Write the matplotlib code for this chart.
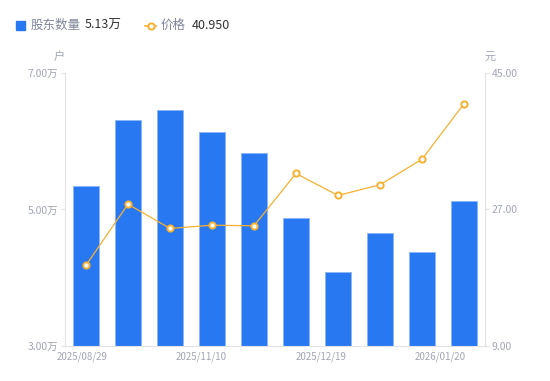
import numpy as np
import matplotlib.pyplot as plt
from matplotlib.lines import Line2D

plt.rcParams['font.family'] = ['Noto Sans CJK SC', 'DejaVu Sans']

# data
dates = ['2025/08/29', '', '', '2025/11/10', '', '', '2025/12/19', '', '', '2026/01/20']
holders = [5.35, 6.31, 6.46, 6.14, 5.83, 4.88, 4.08, 4.66, 4.38, 5.13]  # 万户
price = [19.65, 27.70, 24.50, 24.93, 24.85, 31.75, 28.85, 30.26, 33.63, 40.95]
left_ticks = [3.0, 5.0, 7.0]
right_ticks = [9.0, 27.0, 45.0]

blue = '#2878f2'
orange = '#f8b031'
grey = '#a1a5b4'
axis_col = '#e3e3e6'

fig = plt.figure(figsize=(5.5, 3.81), dpi=100)
ax = fig.add_axes([0.1182, 0.0919, 0.7636, 0.7165])
ax2 = ax.twinx()

x = np.arange(len(holders))
ax.bar(x, holders, width=0.6, color=blue, edgecolor='#8ab6f8', linewidth=0.6, zorder=2)
ax.set_xlim(-0.5, len(holders) - 0.5)
ax.set_ylim(3, 7)
ax.set_yticks(left_ticks)
ax.set_yticklabels([f'{v:.2f}万' for v in left_ticks])

ax2.plot(x, price, color=orange, linewidth=0.9, marker='o', markersize=4.5,
         markerfacecolor='white', markeredgecolor=orange, markeredgewidth=1.4, zorder=3)
ax2.set_ylim(9, 45)
ax2.set_yticks(right_ticks)
ax2.set_yticklabels([f'{v:.2f}' for v in right_ticks])

# x labels spread like the reference
lab_idx = [i for i, d in enumerate(dates) if d]
ax.set_xticks(np.linspace(-0.1, 8.43, len(lab_idx)))
ax.set_xticklabels([dates[i] for i in lab_idx])

for a in (ax, ax2):
    for s in a.spines.values():
        s.set_visible(False)
    a.tick_params(colors=grey, labelsize=7.5, length=3, width=0.8)
    a.tick_params(axis='y', color=axis_col, pad=2)
ax.tick_params(axis='x', length=0, pad=4, labelsize=7)
ax.spines['left'].set_visible(True)
ax.spines['left'].set_color(axis_col)
ax.spines['bottom'].set_visible(True)
ax.spines['bottom'].set_color(axis_col)
ax2.spines['right'].set_visible(True)
ax2.spines['right'].set_color(axis_col)

fig.text(59 / 550, 1 - 57 / 381, '户', color=grey, fontsize=8, ha='center', va='center')
fig.text(490 / 550, 1 - 57 / 381, '元', color=grey, fontsize=8, ha='center', va='center')

# legend row at top
fig.patches.append(plt.Rectangle((16 / 550, 1 - 30 / 381), 9 / 550, 9 / 381,
                                 transform=fig.transFigure, color=blue))
ly = 1 - 25.5 / 381
fig.text(31 / 550, ly, '股东数量', color='#80869a', fontsize=9, va='center')
fig.text(85 / 550, ly, f'{holders[-1]:.2f}万', color='#333333', fontsize=9, va='center')
fig.lines.append(Line2D([145 / 550, 156 / 550], [ly] * 2, transform=fig.transFigure,
                        color=orange, linewidth=1.2))
fig.lines.append(Line2D([150.5 / 550], [ly], transform=fig.transFigure,
                        color=orange, marker='o', markersize=4.5, markerfacecolor='white',
                        markeredgewidth=1.4, linestyle='none'))
fig.text(161 / 550, ly, '价格', color='#80869a', fontsize=9, va='center')
fig.text(192 / 550, ly, f'{price[-1]:.3f}', color='#333333', fontsize=9, va='center')

fig.savefig('out.png', dpi=100)
